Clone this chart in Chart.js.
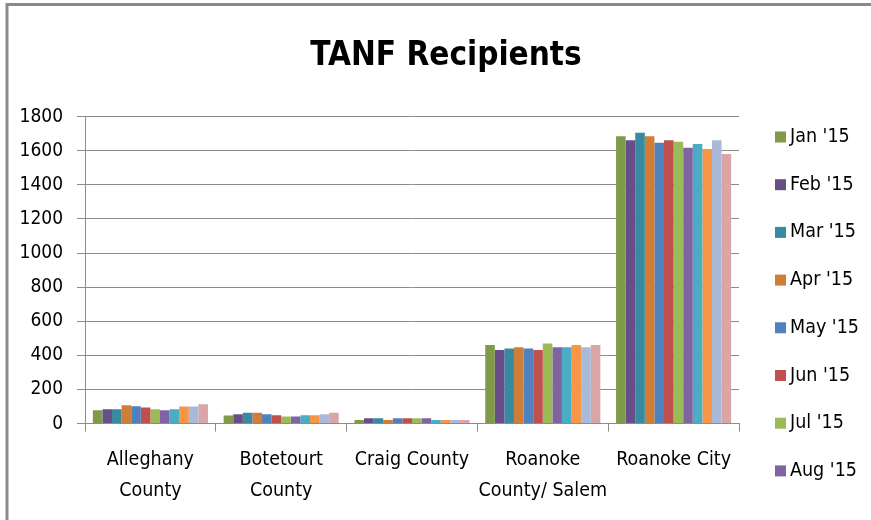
<!DOCTYPE html>
<html>
<head>
<meta charset="utf-8">
<script src="https://cdn.jsdelivr.net/npm/chart.js@4.4.0/dist/chart.umd.min.js"></script>
<style>
  html, body { margin: 0; padding: 0; background: #fff; }
  #wrap { width: 871px; height: 520px; position: relative; }
</style>
</head>
<body>
<div id="wrap"><canvas id="tanfChart" width="871" height="520"></canvas></div>
<script>
const counties = [["Alleghany", "County"], ["Botetourt", "County"], "Craig County", ["Roanoke", "County/ Salem"], "Roanoke City"];
const months = ["Jan '15", "Feb '15", "Mar '15", "Apr '15", "May '15", "Jun '15",
                "Jul '15", "Aug '15", "Sep '15", "Oct '15", "Nov '15", "Dec '15"];
const monthColors = ["#7f9a48", "#674e87", "#378a9f", "#d07d35", "#4f81bd", "#c0504d",
                     "#9bbb59", "#8064a2", "#4bacc6", "#f79646", "#a9b9d9", "#d9a5a7"];

// one array per month: Alleghany, Botetourt, Craig, Roanoke County/Salem, Roanoke City
const jan15 = [78, 47, 21, 461, 1685];
const feb15 = [84, 55, 31, 432, 1661];
const mar15 = [84, 63, 31, 440, 1706];
const apr15 = [107, 63, 21, 448, 1685];
const may15 = [102, 55, 31, 440, 1647];
const jun15 = [94, 49, 31, 432, 1661];
const jul15 = [84, 41, 31, 470, 1653];
const aug15 = [78, 41, 31, 448, 1618];
const sep15 = [84, 49, 21, 448, 1640];
const oct15 = [100, 49, 21, 461, 1610];
const nov15 = [100, 55, 21, 448, 1661];
const dec15 = [113, 63, 21, 461, 1581];
const monthValues = [jan15, feb15, mar15, apr15, may15, jun15, jul15, aug15, sep15, oct15, nov15, dec15];

const yTicks = [0, 200, 400, 600, 800, 1000, 1200, 1400, 1600, 1800];
const legendShown = 8; // the original legend is cut off after Aug '15

const FONT = "'DejaVu Sans Condensed', 'DejaVu Sans', sans-serif";
const GRID = "#8c8c8c";

// grey frame along top and left edge like the original picture
const framePlugin = {
  id: "frame",
  afterDraw(chart) {
    const c = chart.ctx;
    c.save();
    c.strokeStyle = "#8a8a8a";
    c.lineWidth = 3;
    c.beginPath();
    c.moveTo(7, 520);
    c.lineTo(7, 4.5);
    c.lineTo(871, 4.5);
    c.stroke();
    c.restore();
  }
};

// Excel style legend: fixed row spacing, runs below the plot area
const legendPlugin = {
  id: "sideLegend",
  afterDraw(chart) {
    const c = chart.ctx;
    const x = chart.chartArea.right + 36;
    c.save();
    c.font = "19.5px " + FONT;
    c.textBaseline = "middle";
    c.textAlign = "left";
    chart.data.datasets.slice(0, legendShown).forEach((ds, i) => {
      const y = 137 + i * 47.7;
      c.fillStyle = ds.backgroundColor;
      c.fillRect(x, y - 5.5, 11, 11);
      c.fillStyle = "#000";
      c.fillText(ds.label, x + 15, y);
    });
    c.restore();
  }
};

new Chart(document.getElementById("tanfChart"), {
  type: "bar",
  data: {
    labels: counties,
    datasets: months.map((m, i) => ({
      label: m,
      data: monthValues[i],
      backgroundColor: monthColors[i],
      borderWidth: 0,
      categoryPercentage: 0.88,
      barPercentage: 1.0
    }))
  },
  options: {
    responsive: false,
    animation: false,
    layout: { padding: { left: 21, right: 0, top: 0, bottom: 0 } },
    plugins: {
      title: {
        display: true,
        text: "TANF Recipients",
        color: "#000",
        font: { family: FONT, size: 33, weight: "bold" },
        padding: { top: 37, bottom: 40 }
      },
      legend: { display: false },
      tooltip: { enabled: false }
    },
    scales: {
      x: {
        grid: { display: true, drawOnChartArea: false, offset: true, tickLength: 8, color: GRID },
        border: { color: GRID },
        ticks: { color: "#000", font: { family: FONT, size: 19.5, lineHeight: 1.6 }, maxRotation: 0, autoSkip: false, padding: 13 }
      },
      y: {
        min: 0,
        max: 1800,
        afterBuildTicks: axis => { axis.ticks = yTicks.map(v => ({ value: v })); },
        afterFit: axis => { axis.width = 64; },
        grid: { color: GRID, tickLength: 8 },
        border: { color: GRID },
        ticks: { color: "#000", font: { family: FONT, size: 19 }, padding: 14, callback: v => String(v) }
      },
      // empty right axis only keeps room for the legend
      side: {
        position: "right",
        min: 0,
        max: 1800,
        afterFit: axis => { axis.width = 132; },
        grid: { drawOnChartArea: false, drawTicks: false },
        border: { display: false },
        ticks: { display: false }
      }
    }
  },
  plugins: [framePlugin, legendPlugin]
});
</script>
</body>
</html>
